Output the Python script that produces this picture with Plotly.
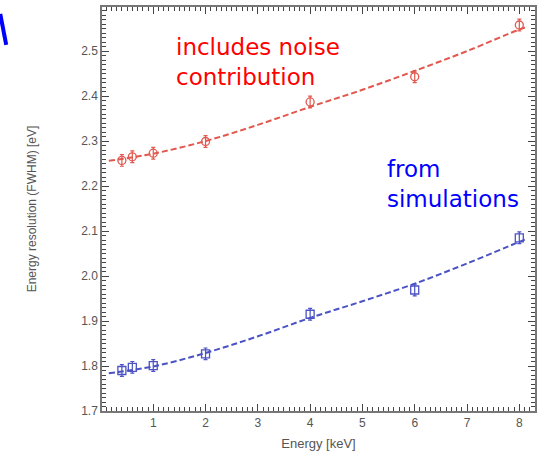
import plotly.graph_objects as go

# Measured points
energy = [0.4, 0.6, 1, 2, 4, 6, 8]
res_noise = [2.257, 2.265, 2.273, 2.299, 2.387, 2.443, 2.558]
err_noise = [0.013, 0.013, 0.013, 0.013, 0.013, 0.013, 0.013]
res_sim = [1.790, 1.797, 1.801, 1.827, 1.915, 1.969, 2.085]
err_sim = [0.013, 0.013, 0.013, 0.013, 0.013, 0.013, 0.013]

# Fitted curves
fit_e = [0.15, 1, 2, 3, 4, 5, 6, 7, 8, 8.15]
fit_noise = [2.256, 2.272, 2.300, 2.336, 2.376, 2.414, 2.456, 2.500, 2.548, 2.554]
fit_sim = [1.784, 1.799, 1.829, 1.866, 1.907, 1.944, 1.983, 2.028, 2.076, 2.083]

X_RANGE = [0.02, 8.3]
Y_RANGE = [1.7, 2.598]

RED_LINE = "#e2584f"
BLUE_LINE = "#4b52c4"
TICK = "#444"

fig = go.Figure()
fig.add_trace(go.Scatter(x=fit_e, y=fit_noise, mode="lines",
                         line=dict(color=RED_LINE, width=2, dash="6px,3px", shape="spline"),
                         hoverinfo="skip", showlegend=False))
fig.add_trace(go.Scatter(x=fit_e, y=fit_sim, mode="lines",
                         line=dict(color=BLUE_LINE, width=2, dash="6px,3px", shape="spline"),
                         hoverinfo="skip", showlegend=False))
fig.add_trace(go.Scatter(x=energy, y=res_noise, mode="markers",
                         marker=dict(symbol="circle-open", size=8, color=RED_LINE, line=dict(width=1.3)),
                         error_y=dict(type="data", array=err_noise, color=RED_LINE, thickness=1.2, width=2),
                         showlegend=False))
fig.add_trace(go.Scatter(x=energy, y=res_sim, mode="markers",
                         marker=dict(symbol="square-open", size=8, color=BLUE_LINE, line=dict(width=1.3)),
                         error_y=dict(type="data", array=err_sim, color=BLUE_LINE, thickness=1.2, width=2),
                         showlegend=False))

axis_common = dict(showline=True, linecolor="#777", linewidth=1.5, mirror="allticks",
                   ticks="inside", ticklen=7, tickcolor=TICK, tickwidth=1.3,
                   showgrid=False, zeroline=False,
                   tickfont=dict(family="Liberation Sans, Arial", size=12, color="#555"))

fig.update_layout(
    xaxis=dict(range=X_RANGE, tickmode="linear", tick0=0, dtick=1,
               minor=dict(ticks="inside", ticklen=4, tickcolor=TICK, tickwidth=1, dtick=0.1, tick0=0),
               title=dict(text="Energy [keV]", font=dict(family="Liberation Sans, Arial", size=13, color="#555"), standoff=10),
               **axis_common),
    yaxis=dict(range=Y_RANGE, tickmode="linear", tick0=1.7, dtick=0.1, tickformat=".1f",
               minor=dict(ticks="inside", ticklen=4, tickcolor=TICK, tickwidth=1, dtick=0.01, tick0=1.7),
               title=dict(text="Energy resolution (FWHM) [eV]", font=dict(family="Liberation Sans, Arial", size=12, color="#555"), standoff=42),
               **axis_common),
)

fig.add_annotation(text="includes noise<br>contribution", xref="paper", yref="paper",
                   x=(174 - 102) / 434, y=1 - (30 - 5) / 406, xanchor="left", yanchor="top",
                   align="left", showarrow=False,
                   font=dict(family="DejaVu Sans", size=23, color="#ff0000"))
fig.add_annotation(text="from<br>simulations", xref="paper", yref="paper",
                   x=(386 - 102) / 434, y=1 - (153 - 5) / 406, xanchor="left", yanchor="top",
                   align="left", showarrow=False,
                   font=dict(family="DejaVu Sans", size=23, color="#0000ff"))

# fragment of a blue stroke at the top-left corner
fig.add_shape(type="line", xref="paper", yref="paper",
              x0=(0 - 102) / 434, y0=1 - (12 - 5) / 406, x1=(6 - 102) / 434, y1=1 - (43 - 5) / 406,
              line=dict(color="#0000ff", width=4))

fig.update_layout(width=542, height=456, margin=dict(l=102, r=6, t=5, b=45),
                  plot_bgcolor="white", paper_bgcolor="white")

fig.write_html("out.html")
